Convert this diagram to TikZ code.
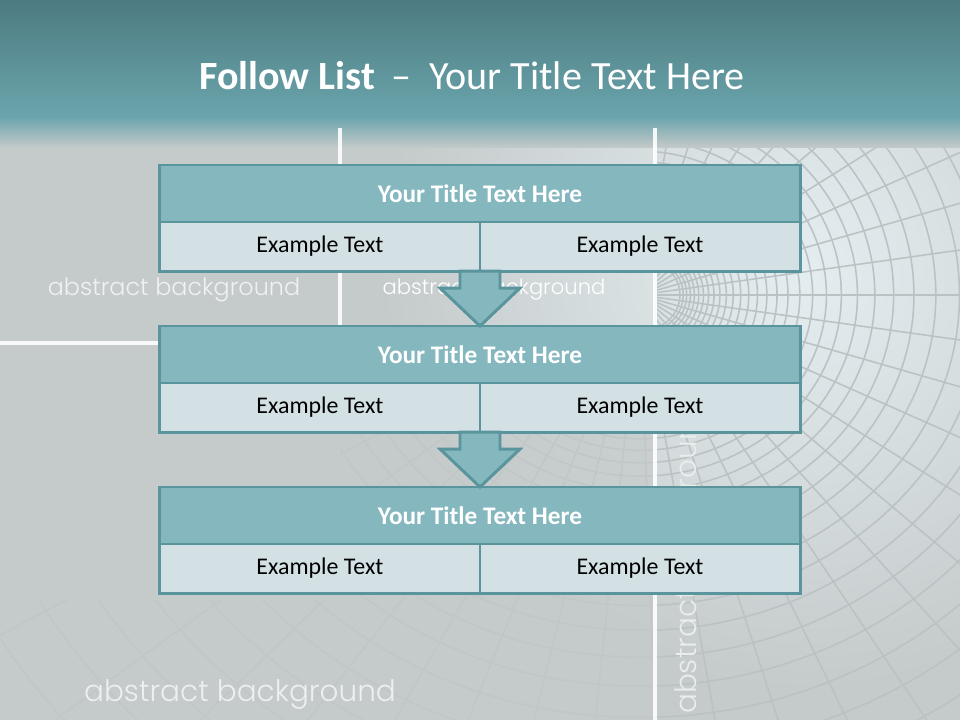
\documentclass[tikz,border=0pt]{standalone}
\usepackage{fontspec}
\setmainfont{Carlito}
\newfontfamily\thinfont{Poppins}[UprightFont=* Light]
\usetikzlibrary{positioning,calc}

\definecolor{bandtop}{HTML}{4C7B81}
\definecolor{bandlow}{HTML}{6BA5AC}
\definecolor{bggrey}{HTML}{C5CACA}
\definecolor{tilehi}{HTML}{E4EEF1}
\definecolor{gridgrey}{HTML}{BAC2C3}
\definecolor{tealline}{HTML}{5A959D}
\definecolor{tealfill}{HTML}{84B7BE}
\definecolor{cellfill}{HTML}{D3E1E5}

\tikzset{
	titlebar/.style={draw=tealline, fill=tealfill, line width=2.1pt, outer sep=0pt,
		minimum width=16cm, minimum height=1.425cm, inner sep=0pt,
		text=white, font=\fontsize{18}{21}\selectfont\bfseries},
	cell/.style={draw=tealline, fill=cellfill, line width=2.1pt, outer sep=0pt,
		minimum width=8cm, minimum height=1.225cm, inner sep=0pt,
		font=\fontsize{17}{20}\selectfont},
	blockarrow/.style={draw=tealline, fill=tealfill, line width=2.1pt, line join=miter},
	gridline/.style={draw=gridgrey, line width=1.1pt},
	bgword/.style={inner sep=0pt, font=\thinfont\fontsize{#1}{#1}\selectfont},
	whiteline/.style={draw=white, line width=3pt, opacity=0.9}
}

\begin{document}
\begin{tikzpicture}[x=0.025cm, y=-0.025cm]
	\useasboundingbox (0,0) rectangle (960,720);
	\clip (0,0) rectangle (960,720);

	% background
	\fill[bggrey] (0,0) rectangle (960,720);
	\shade[inner color=tilehi, outer color=bggrey] (800,270) circle (420);
	\begin{scope}
		\clip (655,130) rectangle (960,720) (340,420) rectangle (655,720) (0,600) rectangle (340,720);
		\foreach \k in {0,...,40}
			\draw[gridline] (640,295) ellipse ({40*1.08^\k} and {36*1.08^\k});
		\foreach \a in {0,8,...,352}
			\draw[gridline] (640,295) -- ++(\a:1200);
	\end{scope}
	% soften the grid away from the right side
	\fill[bggrey, opacity=0.65] (0,400) rectangle (655,720);
	\shade[top color=bandtop, bottom color=bandlow] (0,0) rectangle (960,118);
	\shade[top color=bandlow, bottom color=bggrey] (0,117) rectangle (960,148);

	\draw[whiteline] (340,128) -- (340,330);
	\draw[whiteline] (655,128) -- (655,720);
	\draw[whiteline] (0,343) -- (165,343);

	\node[bgword=17, text=white!75!bggrey] (w1) at (174,290) {abstract background};
	\node[bgword=15, text=white] (w2) at (494,290) {abstract background};
	\node[bgword=21, text=white!65!bggrey, rotate=90] (w3) at (690,558) {abstract background};
	\node[bgword=21, text=white!70!bggrey] (w4) at (240,695) {abstract background};

	\node[text=white, font=\fontsize{28.5}{32}\selectfont] (head) at (472,76)
		{\textbf{Follow List}\hspace{0.4em}–\hspace{0.45em}Your Title Text Here};

	% the three lists
	\foreach \i/\y in {1/165,2/326,3/487}{
		\node[titlebar, anchor=north] (t\i) at (480,\y) {Your Title Text Here};
		\node[cell, anchor=north west] (a\i) at (t\i.south west) {Example Text};
		\node[cell, anchor=north east] (b\i) at (t\i.south east) {Example Text};
	}

	\foreach \i/\j in {1/2,2/3}
		\draw[blockarrow] ($(a\i.south east)+(-20,0)$) -- ++(0,17) -- ++(-20,0)
			-- (t\j.north) -- ($(a\i.south east)+(40,17)$) -- ++(-20,0) -- ++(0,-17) -- cycle;
\end{tikzpicture}
\end{document}
